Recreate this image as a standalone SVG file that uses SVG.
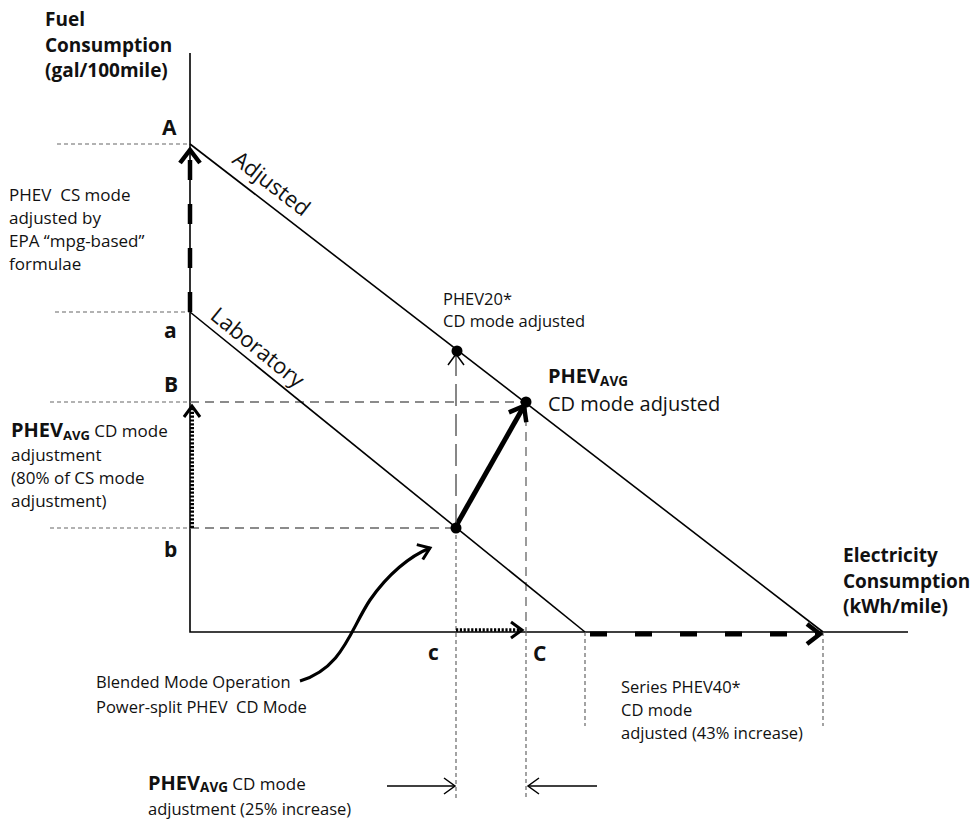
<svg xmlns="http://www.w3.org/2000/svg" width="976" height="819" viewBox="0 0 976 819">
<style>
text{font-family:"Open Sans","Liberation Sans",sans-serif;fill:#111;white-space:pre}
.t{font-size:16.5px}
.tl{font-size:17px}
.m{font-size:20px}
.r{font-size:22px}
.b{font-weight:bold}
.ttl{font-size:19px;font-weight:bold}
.lbl{font-size:21px;font-weight:bold}
.ax{stroke:#000;stroke-width:1.6;fill:none}
.ln{stroke:#000;stroke-width:1.6;fill:none}
.g1{stroke:#666;stroke-width:1.2;stroke-dasharray:4 3;fill:none}
.g2{stroke:#666;stroke-width:1.3;stroke-dasharray:9 6;fill:none}
.g3{stroke:#555;stroke-width:1.4;stroke-dasharray:22 8;fill:none}
.dot{fill:#000}
</style>
<defs>
<marker id="chThin" viewBox="-14 -10 16 20" refX="0" refY="0" markerWidth="16" markerHeight="20" markerUnits="userSpaceOnUse" orient="auto">
<path d="M-11,-8 L0,0 L-11,8" fill="none" stroke="#000" stroke-width="1.5"/>
</marker>
<marker id="chMed" viewBox="-15 -11 18 22" refX="0" refY="0" markerWidth="18" markerHeight="22" markerUnits="userSpaceOnUse" orient="auto">
<path d="M-11,-8 L0,0 L-11,8" fill="none" stroke="#000" stroke-width="3"/>
</marker>
<marker id="chThick" viewBox="-18 -13 21 26" refX="0" refY="0" markerWidth="21" markerHeight="26" markerUnits="userSpaceOnUse" orient="auto">
<path d="M-13,-10 L0,0 L-13,10" fill="none" stroke="#000" stroke-width="4.5" stroke-linejoin="miter"/>
</marker>
</defs>

<g id="axes">
<path class="ax" d="M190,53 V632 H908"/>
</g>

<g id="guides">
<path class="g1" d="M57,144 H190"/>
<path class="g1" d="M55,312 H190"/>
<path class="g1" d="M50,402 H190"/>
<path class="g2" d="M190,402 H526"/>
<path class="g1" d="M50,528 H190"/>
<path class="g2" d="M190,528 H456"/>
<path class="g1" d="M456,528 V800"/>
<path class="g2" d="M526,402 V632"/>
<path class="g1" d="M526,632 V800"/>
<path class="g1" d="M585,632 V726"/>
<path class="g1" d="M823,632 V726"/>
</g>

<g id="lines">
<path id="adjusted-line" class="ln" d="M190,144 L823,632"/>
<path id="laboratory-line" class="ln" d="M190,312 L585,632"/>
</g>

<g id="connectors">
<path d="M190,312 V150" fill="none" stroke="#000" stroke-width="4.5" stroke-dasharray="20 24" marker-end="url(#chThick)"/>
<path d="M192,528 V406" fill="none" stroke="#000" stroke-width="4" stroke-dasharray="2.2 1.6" marker-end="url(#chMed)"/>
<path d="M456,630 H522" fill="none" stroke="#000" stroke-width="3.5" stroke-dasharray="2.2 1.6" marker-end="url(#chMed)"/>
<path d="M590,634 H820" fill="none" stroke="#000" stroke-width="5" stroke-dasharray="17 28" marker-end="url(#chThick)"/>
<path d="M456,526 L524,406" fill="none" stroke="#000" stroke-width="5" marker-end="url(#chThick)"/>
<path class="g3" d="M456,526 V354" marker-end="url(#chThin)"/>
<path d="M300,681 C343,668 350,630 370,600 C388,574 410,556 430,548" fill="none" stroke="#000" stroke-width="3.2" marker-end="url(#chMed)"/>
<path d="M387,786 H455" fill="none" stroke="#000" stroke-width="1.5" marker-end="url(#chThin)"/>
<path d="M597,786 H528" fill="none" stroke="#000" stroke-width="1.5" marker-end="url(#chThin)"/>
</g>

<g id="points">
<circle class="dot" cx="457" cy="351" r="5.5"/>
<circle class="dot" cx="526" cy="402" r="5.5"/>
<circle class="dot" cx="456" cy="528" r="5.5"/>
</g>

<g id="y-axis-title">
<text class="ttl" x="45" y="26">Fuel</text>
<text class="ttl" x="45" y="52">Consumption</text>
<text class="ttl" x="45" y="77">(gal/100mile)</text>
</g>
<g id="x-axis-title">
<text class="ttl" x="843" y="562">Electricity</text>
<text class="ttl" x="843" y="588">Consumption</text>
<text class="ttl" x="843" y="613">(kWh/mile)</text>
</g>

<g id="labels-points">
<text class="lbl" x="162" y="135">A</text>
<text class="lbl" x="164" y="338">a</text>
<text class="lbl" x="164" y="392">B</text>
<text class="lbl" x="164" y="557">b</text>
<text class="lbl" x="428" y="660">c</text>
<text class="lbl" x="533" y="661">C</text>
</g>

<g id="line-labels">
<text class="r" transform="translate(231,162) rotate(37.6)">Adjusted</text>
<text class="r" transform="translate(209,318) rotate(39)">Laboratory</text>
</g>

<g id="note-cs">
<text class="tl" x="9" y="201">PHEV  CS mode</text>
<text class="tl" x="9" y="224">adjusted by</text>
<text class="tl" x="9" y="247">EPA “mpg-based”</text>
<text class="tl" x="9" y="270">formulae</text>
</g>

<g id="note-cd-adj">
<text x="11" y="437"><tspan class="b" font-size="20">PHEV</tspan><tspan class="b" font-size="13" dy="3">AVG</tspan><tspan class="tl" dy="-3"> CD mode</tspan></text>
<text class="tl" x="11" y="461">adjustment</text>
<text class="tl" x="11" y="484">(80% of CS mode</text>
<text class="tl" x="11" y="507">adjustment)</text>
</g>

<g id="note-phev20">
<text class="t" x="443" y="305">PHEV20*</text>
<text class="t" x="443" y="327">CD mode adjusted</text>
</g>

<g id="note-phevavg">
<text x="548" y="383"><tspan class="b" font-size="20">PHEV</tspan><tspan class="b" font-size="13.5" dy="2.5">AVG</tspan></text>
<text class="m" x="548" y="411">CD mode adjusted</text>
</g>

<g id="note-series">
<text class="t" x="621" y="693">Series PHEV40*</text>
<text class="t" x="621" y="716">CD mode</text>
<text class="t" x="621" y="739">adjusted (43% increase)</text>
</g>

<g id="note-blended">
<text x="96" y="688" font-size="16.5">Blended Mode Operation</text>
<text x="96" y="713" font-size="16.5">Power-split PHEV  CD Mode</text>
</g>

<g id="note-bottom">
<text x="148" y="790"><tspan class="b" font-size="20">PHEV</tspan><tspan class="b" font-size="13.5" dy="2">AVG</tspan><tspan class="tl" dy="-2"> CD mode</tspan></text>
<text class="t" x="148" y="815">adjustment (25% increase)</text>
</g>
</svg>
